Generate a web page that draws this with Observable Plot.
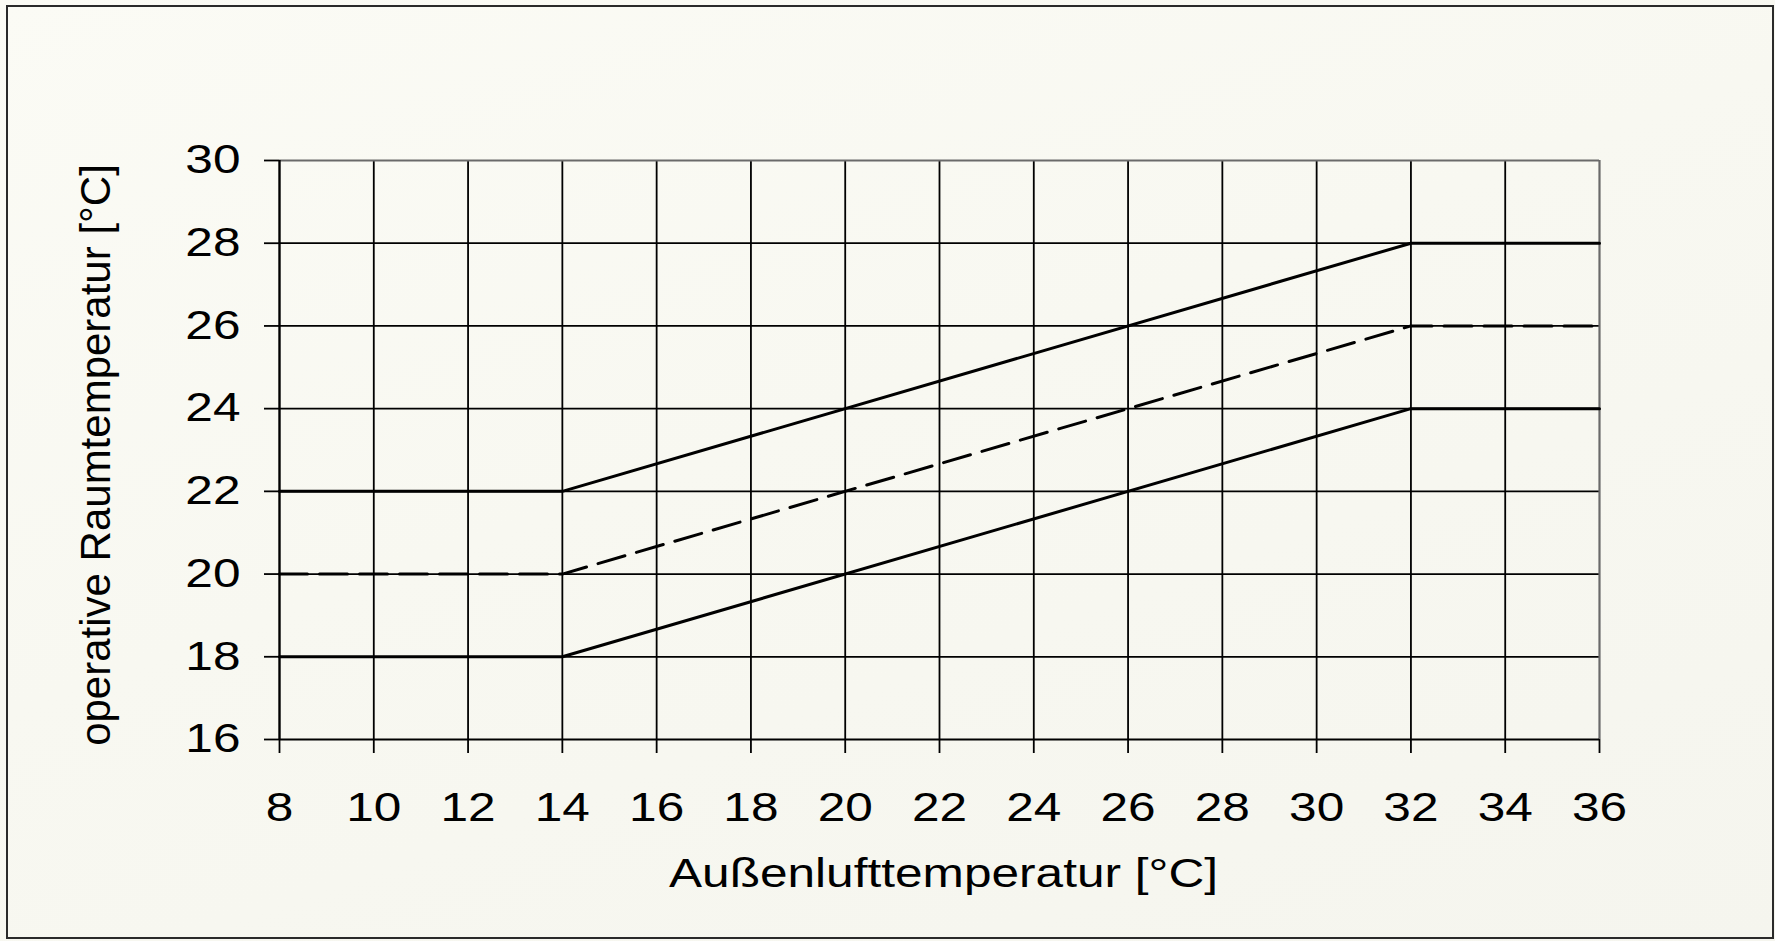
<!DOCTYPE html>
<html>
<head>
<meta charset="utf-8">
<script src="https://cdn.jsdelivr.net/npm/d3@7"></script>
<script src="https://cdn.jsdelivr.net/npm/@observablehq/plot@0.6"></script>
<style>
html,body{margin:0;padding:0;background:#f8f8f1;}
#wrap{position:relative;width:1775px;height:941px;overflow:hidden;background:linear-gradient(160deg,#fbfbf5 0%,#f8f8f1 45%,#f5f5ee 100%);}
#border{position:absolute;left:6px;top:5px;width:1768px;height:934px;border:2px solid #2a2a2a;box-sizing:border-box;pointer-events:none;}
svg{display:block;}
</style>
</head>
<body>
<div id="wrap"><div id="border"></div></div>
<script>
// Data
const outdoorTemp = [8, 14, 32, 36];
const upperLimit  = [22, 22, 28, 28];
const setpoint    = [20, 20, 26, 26];
const lowerLimit  = [18, 18, 24, 24];
const xTicks = [8, 10, 12, 14, 16, 18, 20, 22, 24, 26, 28, 30, 32, 34, 36];
const yTicks = [16, 18, 20, 22, 24, 26, 28, 30];
const xLabel = "Außenlufttemperatur [°C]";
const yLabel = "operative Raumtemperatur [°C]";

const toRows = (ys) => outdoorTemp.map((x, i) => ({x, y: ys[i]}));
const upperRows = toRows(upperLimit);
const midRows = toRows(setpoint);
const lowerRows = toRows(lowerLimit);

const innerX = xTicks.filter(v => v !== xTicks[0] && v !== xTicks[xTicks.length - 1]);
const innerY = yTicks.filter(v => v !== yTicks[0] && v !== yTicks[yTicks.length - 1]);

const chart = Plot.plot({
  width: 1775,
  height: 941,
  marginLeft: 279,
  marginRight: 176,
  marginTop: 160,
  marginBottom: 202,
  style: {background: "transparent", fontFamily: "'Liberation Sans', Arial, sans-serif", fontSize: "40px", color: "#000"},
  x: {domain: [8, 36]},
  y: {domain: [16, 30]},
  marks: [
    Plot.ruleX(innerX, {stroke: "#000", strokeWidth: 1.8}),
    Plot.ruleY(innerY, {stroke: "#000", strokeWidth: 1.8}),
    Plot.ruleY([yTicks[yTicks.length - 1]], {stroke: "#6a6a6a", strokeWidth: 2.2}),
    Plot.ruleX([xTicks[xTicks.length - 1]], {stroke: "#6a6a6a", strokeWidth: 2.2}),
    Plot.ruleX([xTicks[0]], {stroke: "#000", strokeWidth: 2.4}),
    Plot.ruleY([yTicks[0]], {stroke: "#000", strokeWidth: 2.2}),
    Plot.axisX(xTicks, {tickSize: 14, tickPadding: 39, strokeWidth: 1.8, stroke: "#000", fill: "#000", label: null, fontSize: 40}),
    Plot.axisY(yTicks, {tickSize: 15, tickPadding: 24, strokeWidth: 1.8, stroke: "#000", fill: "#000", label: null, fontSize: 40}),
    Plot.line(upperRows, {x: "x", y: "y", stroke: "#000", strokeWidth: 3}),
    Plot.line(lowerRows, {x: "x", y: "y", stroke: "#000", strokeWidth: 3}),
    Plot.line(midRows, {x: "x", y: "y", stroke: "#000", strokeWidth: 3, strokeDasharray: "28,12"}),
    Plot.text([xLabel], {frameAnchor: "bottom", dx: 4, dy: 135, lineAnchor: "middle", fontSize: 40, fill: "#000"}),
    Plot.text([yLabel], {frameAnchor: "left", textAnchor: "middle", rotate: -90, dx: -183, dy: 5, lineAnchor: "middle", fontSize: 42, fill: "#000"})
  ]
});

// horizontal stretch of the horizontal texts (as in the reference rendering)
d3.select(chart).selectAll("text").each(function () {
  const t = this.getAttribute("transform") || "";
  if (t.includes("rotate")) return;
  const xa = this.getAttribute("x");
  const x = xa && !/em/.test(xa) ? (parseFloat(xa) || 0) : 0;
  this.setAttribute("transform", `${t} translate(${x},0) scale(1.24,1) translate(${-x},0)`.trim());
});

document.getElementById("wrap").prepend(chart);
</script>
</body>
</html>
